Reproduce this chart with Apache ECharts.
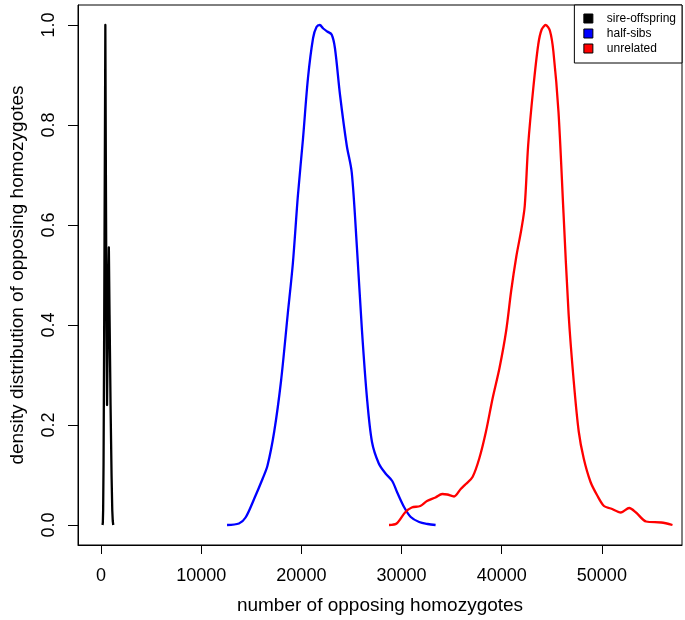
<!DOCTYPE html>
<html>
<head>
<meta charset="utf-8">
<script src="https://cdn.jsdelivr.net/npm/echarts@6/dist/echarts.min.js"></script>
<style>html,body{margin:0;padding:0;background:#fff;}#c{width:685px;height:620px;}</style>
</head>
<body>
<div id="c"></div>
<script>
// ---- data ----
var seriesNames = ['sire-offspring', 'half-sibs', 'unrelated'];
var xTicks = [0, 10000, 20000, 30000, 40000, 50000];
var yTicks = [0, 0.2, 0.4, 0.6, 0.8, 1.0];

var sireOffspring = [
  [150,0],[180,0.005],[210,0.03],[250,0.12],[300,0.33],[350,0.58],[400,0.84],[430,1.0],
  [480,0.72],[540,0.43],[600,0.24],[660,0.36],[720,0.48],[780,0.555],[850,0.42],
  [950,0.24],[1050,0.1],[1120,0.03],[1170,0.008],[1220,0]
];
var halfSibs = [
  [12580,0],[13770,0.003],[14430,0.015],[15280,0.052],[16120,0.092],[16620,0.119],
  [17290,0.187],[17970,0.288],[18640,0.422],[19150,0.523],[19650,0.658],[20160,0.772],
  [20660,0.894],[21170,0.974],[21510,0.996],[21840,1.0],[22180,0.993],[22580,0.987],
  [23020,0.981],[23350,0.954],[23860,0.86],[24530,0.759],[25030,0.705],[25540,0.557],
  [26050,0.389],[26550,0.254],[27050,0.166],[27730,0.123],[28400,0.103],[29070,0.088],
  [29570,0.065],[30250,0.036],[30920,0.016],[31760,0.006],[32610,0.002],[33400,0]
];
var unrelated = [
  [28750,0],[29510,0.003],[30350,0.025],[31020,0.035],[31870,0.038],[32540,0.048],
  [33390,0.055],[34060,0.062],[34560,0.061],[35240,0.057],[35910,0.072],[36420,0.082],
  [37090,0.096],[37760,0.133],[38430,0.187],[39100,0.254],[39780,0.314],[40450,0.389],
  [40950,0.469],[41460,0.537],[41960,0.591],[42300,0.638],[42640,0.759],[43150,0.873],
  [43650,0.961],[43990,0.991],[44390,1.0],[44820,0.988],[45160,0.947],[45670,0.826],
  [46170,0.624],[46680,0.422],[47190,0.288],[47690,0.187],[48190,0.133],[48870,0.086],
  [49540,0.059],[50210,0.038],[50890,0.033],[51900,0.025],[52730,0.034],[53410,0.025],
  [54420,0.007],[55930,0.005],[57050,0]
];
var seriesData = [sireOffspring, halfSibs, unrelated];
var seriesColors = ['#000000', '#0000ff', '#ff0000'];

// ---- chart ----
var font = '"Liberation Sans", Arial, Helvetica, sans-serif';
var chart = echarts.init(document.getElementById('c'), null, {renderer: 'canvas'});
var series = seriesNames.map(function (n, i) {
  return {
    name: n,
    type: 'line',
    data: seriesData[i],
    showSymbol: false,
    smooth: i === 0 ? false : 0.3,
    color: seriesColors[i],
    lineStyle: {width: 2.3, color: seriesColors[i], join: 'round'},
    animation: false
  };
});
chart.setOption({
  animation: false,
  backgroundColor: '#fff',
  grid: {left: 76, right: 3, top: 5, bottom: 74, show: true, borderColor: '#000', borderWidth: 1, containLabel: false},
  legend: {
    data: seriesNames,
    orient: 'vertical',
    right: 3, top: 5,
    icon: 'rect',
    itemWidth: 9, itemHeight: 9,
    itemGap: 0,
    padding: [6, 6, 7, 9],
    borderColor: '#000', borderWidth: 1,
    backgroundColor: '#fff',
    itemStyle: {borderColor: '#000', borderWidth: 1},
    textStyle: {fontFamily: font, fontSize: 12, color: '#000', lineHeight: 15, padding: [0, 0, 0, 9]}
  },
  xAxis: {
    type: 'value', min: -2300, max: 58000,
    name: 'number of opposing homozygotes', nameLocation: 'middle', nameGap: 51,
    nameTextStyle: {fontFamily: font, fontSize: 19, color: '#000'},
    splitLine: {show: false},
    axisLine: {show: true, onZero: false, lineStyle: {color: '#000', width: 1}},
    axisTick: {show: true, customValues: xTicks, length: 9, lineStyle: {color: '#000'}},
    axisLabel: {customValues: xTicks, fontFamily: font, fontSize: 18, color: '#000', margin: 22,
      formatter: function (v) { return String(v); }}
  },
  yAxis: {
    type: 'value', min: -0.04, max: 1.04,
    name: 'density distribution of opposing homozygotes', nameLocation: 'middle', nameGap: 51,
    nameTextStyle: {fontFamily: font, fontSize: 19, color: '#000'},
    splitLine: {show: false},
    axisLine: {show: true, onZero: false, lineStyle: {color: '#000', width: 1}},
    axisTick: {show: true, customValues: yTicks, length: 10, lineStyle: {color: '#000'}},
    axisLabel: {customValues: yTicks, rotate: 90, fontFamily: font, fontSize: 18, color: '#000', margin: 20,
      formatter: function (v) { return v.toFixed(1); }}
  },
  series: series
});
</script>
</body>
</html>
